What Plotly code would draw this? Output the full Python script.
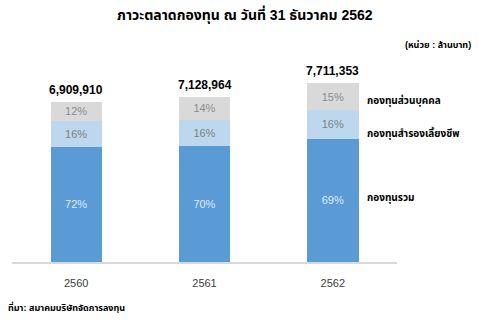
import plotly.graph_objects as go

years = ["2560", "2561", "2562"]
totals = [6909910, 7128964, 7711353]
pct_mutual = [72, 70, 69]
pct_provident = [16, 16, 16]
pct_private = [12, 14, 15]
series_names = ["กองทุนรวม", "กองทุนสำรองเลี้ยงชีพ", "กองทุนส่วนบุคคล"]
title_text = "ภาวะตลาดกองทุน ณ วันที่ 31 ธันวาคม 2562"
unit_text = "(หน่วย : ล้านบาท)"
source_text = "ที่มา: สมาคมบริษัทจัดการลงทุน"

FONT = "Liberation Sans, Arial, Noto Sans Thai, Tahoma, sans-serif"

W, H = 478, 323
L, R, T, B = 12, 81, 40, 61
PW, PH = W - L - R, H - T - B


def px(xp):
    return (xp - L) / PW


def py(yp):
    return (H - B - yp) / PH


series = [
    (pct_mutual, "#5B9BD5", "#DDEBF7"),
    (pct_provident, "#BDD7EE", "#7F7F7F"),
    (pct_private, "#D9D9D9", "#8C8C8C"),
]

fig = go.Figure()
for (pcts, color, tcolor), name in zip(series, series_names):
    fig.add_trace(go.Bar(
        x=years,
        y=[t * p / 100 for t, p in zip(totals, pcts)],
        name=name,
        marker=dict(color=color, line=dict(width=0)),
        width=0.4,
        text=[f"{p}%" for p in pcts],
        textposition="inside",
        insidetextanchor="middle",
        textfont=dict(size=11, color=tcolor, family=FONT),
        constraintext="none",
        hoverinfo="skip",
    ))

annotations = []
for i, t in enumerate(totals):
    annotations.append(dict(
        x=i, y=t, xref="x", yref="y", text=f"<b>{t:,}</b>",
        showarrow=False, yanchor="bottom", yshift=3,
        font=dict(size=12, color="#000000", family=FONT),
    ))

label_pos = [198, 133, 100]
for name, lp in zip(series_names, label_pos):
    annotations.append(dict(
        x=px(365), xref="paper", y=py(lp), yref="paper", text=f"<b>{name}</b>",
        showarrow=False, xanchor="left", yanchor="middle",
        font=dict(size=10, color="#000000", family=FONT),
    ))

annotations.append(dict(
    x=px(245), y=py(14), xref="paper", yref="paper", text=f"<b>{title_text}</b>",
    showarrow=False, xanchor="center", yanchor="middle",
    font=dict(size=14, color="#000000", family=FONT),
))
annotations.append(dict(
    x=px(438), y=py(44), xref="paper", yref="paper", text=f"<b>{unit_text}</b>",
    showarrow=False, xanchor="center", yanchor="middle",
    font=dict(size=9, color="#000000", family=FONT),
))
annotations.append(dict(
    x=px(6), y=py(307), xref="paper", yref="paper", text=f"<b>{source_text}</b>",
    showarrow=False, xanchor="left", yanchor="middle",
    font=dict(size=9, color="#000000", family=FONT),
))

fig.update_layout(
    width=W, height=H,
    margin=dict(l=L, r=R, t=T, b=B),
    paper_bgcolor="white", plot_bgcolor="white",
    barmode="stack", showlegend=False,
    annotations=annotations,
    font=dict(family=FONT),
    uniformtext=dict(minsize=10, mode="show"),
    xaxis=dict(
        type="category", range=[-0.5, 2.5], autorange=False,
        showgrid=False, showline=True, linecolor="#D9D9D9", linewidth=1.5,
        ticks="", ticklabelstandoff=10,
        tickfont=dict(size=11, color="#404040", family=FONT), fixedrange=True,
    ),
    yaxis=dict(
        range=[0, 9.57e6], autorange=False, visible=False, showgrid=False,
        zeroline=False, fixedrange=True,
    ),
)

fig.write_html("out.html")
